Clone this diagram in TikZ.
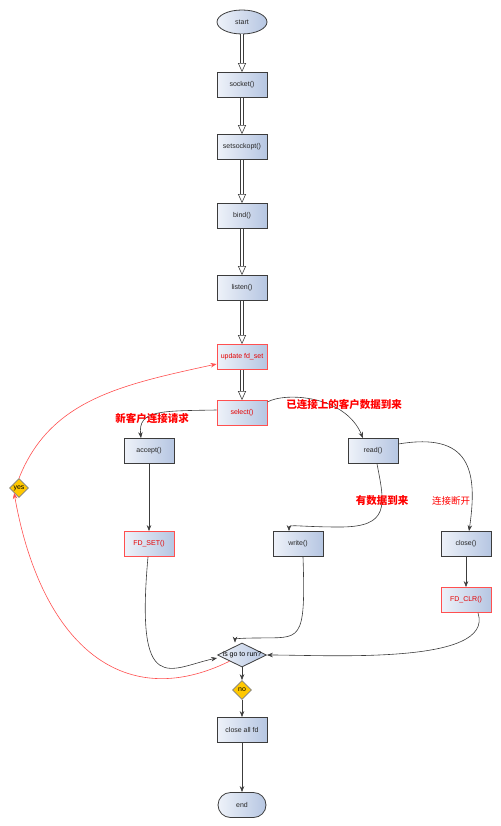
\documentclass[tikz,border=0pt]{standalone}
\usepackage{fontspec}
\setmainfont{Liberation Sans}
\newfontfamily\cjk{Noto Sans CJK SC}
\usepackage{tikz}
\usetikzlibrary{shapes.geometric, shapes.misc, arrows.meta}
\tikzset{>={Stealth[length=6pt, width=4.5pt]}}
\definecolor{boxlo}{RGB}{238,242,249}
\definecolor{boxhi}{RGB}{182,198,226}
\definecolor{edge}{RGB}{60,60,60}
\definecolor{alert}{RGB}{255,80,80}
\definecolor{gold}{RGB}{255,200,0}
\tikzset{
    base/.style={draw=edge, line width=0.8pt, left color=boxlo, right color=boxhi, minimum width=50pt, minimum height=25pt, inner sep=1pt, text=black!85},
    proc/.style={base, rectangle},
    procred/.style={proc, draw=alert, text=red!90!black},
    term/.style={base, ellipse, minimum height=24pt},
    stadium/.style={base, rounded rectangle},
    decide/.style={base, diamond, minimum width=49pt, minimum height=24pt, inner sep=0pt},
    flag/.style={draw=gray, line width=0.6pt, fill=gold, diamond, minimum width=19pt, minimum height=19pt, inner sep=0pt},
    pipe/.style={draw=edge, line width=0.6pt, double=white, double distance=2pt, -{Triangle[open, length=9pt, width=8pt]}},
    flow/.style={draw=edge, line width=0.6pt, ->},
    loopback/.style={draw=alert, line width=0.6pt, ->},
    note/.style={text=red, font=\cjk\bfseries\fontsize{10.5}{12}\selectfont},
}

\begin{document}
\begin{tikzpicture}[x=1pt, y=-1pt, font=\fontsize{7}{8}\selectfont]
    \useasboundingbox (0, 0) rectangle (500, 826);
    \node [term] (start) at (242, 22) {start};
    \foreach \name/\y/\txt in {sock/85/socket(), sso/147/setsockopt(), bind/216/bind(), lis/288/listen()} {
        \node [proc] (\name) at (242, \y) {\txt};
    }
    \node [procred] (upd) at (242, 357) {update fd\_set};
    \node [procred] (sel) at (242, 413) {select()};
    \node [proc] (acc) at (149, 451) {accept()};
    \node [proc] (read) at (373, 451) {read()};
    \node [procred] (fdset) at (149, 544) {FD\_SET()};
    \node [proc] (wr) at (298, 544) {write()};
    \node [proc] (cls) at (466, 544) {close()};
    \node [procred] (fdclr) at (466, 600) {FD\_CLR()};
    \node [decide, label=center:{is go to run?}] (run) at (242, 655) {};
    \node [flag, label=center:no] (no) at (242, 690) {};
    \node [flag, label=center:yes] (yes) at (19, 488) {};
    \node [proc] (cafd) at (242, 730) {close all fd};
    \node [stadium] (end) at (242, 805) {end};
    \foreach \a/\b in {start/sock, sock/sso, sso/bind, bind/lis, lis/upd, upd/sel} {
        \draw [pipe] (\a) -- (\b);
    }
    \draw [flow] ([yshift=3pt]sel.west) .. controls (160, 411) and (138, 410) .. ([xshift=-8pt]acc.north);
    \draw [flow] ([yshift=11pt]sel.east) .. controls (285, 392) and (345, 395) .. ([xshift=-10pt]read.north);
    \draw [flow] (acc) -- (fdset);
    \draw [flow] ([xshift=4pt]read.south) .. controls (385, 505) and (390, 527) .. (340, 527) .. controls (300, 527) and (289, 524) .. ([xshift=-9pt]wr.north);
    \draw [flow] ([yshift=7pt]read.east) .. controls (470, 432) and (478, 470) .. ([xshift=3pt]cls.north);
    \draw [flow] (cls) -- (fdclr);
    \draw [flow] ([xshift=-1pt]fdset.south) .. controls (135, 700) and (170, 668) .. ([yshift=-3pt]run.west);
    \draw [flow] ([xshift=5pt]wr.south) .. controls (306, 645) and (300, 637) .. (258, 638) .. controls (240, 638) and (235, 639) .. ([xshift=-7pt]run.north);
    \draw [flow] ([xshift=12pt]fdclr.south) .. controls (495, 665) and (330, 655) .. (run.east);
    \draw [flow] (run) -- (no);
    \draw [flow] (no) -- (cafd);
    \draw [flow] (cafd) -- (end);
    \draw [loopback] (run.south west) .. controls (120, 715) and (40, 640) .. (yes.south west);
    \draw [loopback] (yes.north) .. controls (50, 400) and (120, 385) .. ([yshift=-7pt]upd.west);
    \node [note] (newcli) at (152, 419) {新客户连接请求};
    \node [note] (olddata) at (344, 405) {已连接上的客户数据到来};
    \node [note] (hasdata) at (382, 501) {有数据到来};
    \node [note, font=\cjk\fontsize{9.5}{11}\selectfont] (closed) at (451, 501) {连接断开};
\end{tikzpicture}
\end{document}
